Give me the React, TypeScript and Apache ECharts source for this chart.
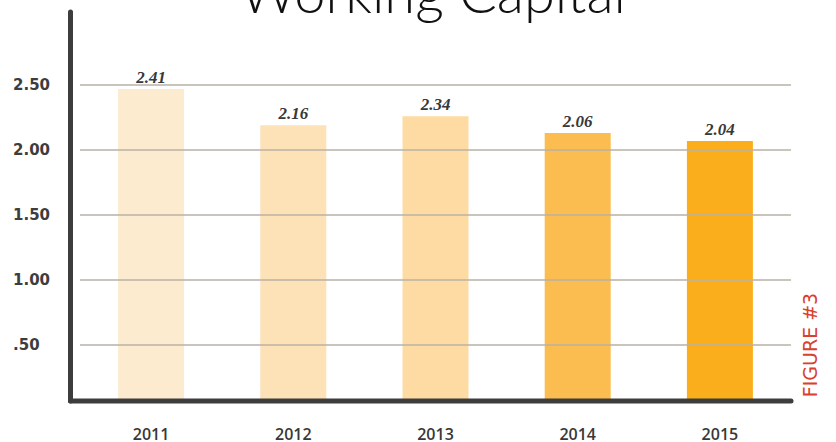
import React, { useEffect, useRef } from "react";
import * as echarts from "echarts";

const categories = ["2011", "2012", "2013", "2014", "2015"];
const barValues = [2.47, 2.19, 2.26, 2.13, 2.07];
const valueLabels = ["2.41", "2.16", "2.34", "2.06", "2.04"];
const barColors = ["#FDEBD0", "#FDE2B8", "#FDDBA3", "#FBBD4F", "#FBAE1B"];
const yTickValues = [0.5, 1, 1.5, 2, 2.5];
const yTickLabels = [".50", "1.00", "1.50", "2.00", "2.50"];
const titleText = "Working Capital";
const figureText = "FIGURE #3";

export default function App() {
  const ref = useRef<HTMLDivElement>(null);
  useEffect(() => {
    if (!ref.current) return;
    const chart = echarts.init(ref.current, null, { renderer: "svg" });
    chart.setOption({
      animation: false,
      backgroundColor: "#ffffff",
      grid: { left: 80, right: 45, top: 10, bottom: 41 },
      xAxis: {
        type: "category",
        data: categories,
        axisLine: { show: false },
        axisTick: { show: false },
        axisLabel: {
          margin: 26,
          color: "#383838",
          fontSize: 16,
          lineHeight: 14,
          fontWeight: 600,
          fontFamily: "Open Sans",
        },
      },
      yAxis: {
        type: "value",
        min: 0.069,
        max: 3.077,
        axisLine: { show: false },
        axisTick: { show: false },
        splitLine: { show: false },
        axisLabel: {
          customValues: yTickValues,
          formatter: (v: number) => {
            const i = yTickValues.findIndex((t) => Math.abs(t - v) < 1e-6);
            return i >= 0 ? yTickLabels[i] : "";
          },
          align: "left",
          margin: 67,
          color: "#3d3d3d",
          fontSize: 15,
          fontWeight: "bold",
          fontFamily: "DejaVu Sans",
        },
      },
      series: [
        {
          type: "bar",
          barWidth: 66,
          data: barValues.map((v, i) => ({
            value: v,
            itemStyle: { color: barColors[i] },
            label: { formatter: valueLabels[i] },
          })),
          label: {
            show: true,
            position: "top",
            distance: 3,
            color: "#383838",
            fontSize: 17,
            fontStyle: "italic",
            fontWeight: "bold",
            fontFamily: "Liberation Serif",
          },
          markLine: {
            silent: true,
            symbol: "none",
            label: { show: false },
            lineStyle: { color: "#b8b2a6", width: 1.5, type: "solid" },
            data: yTickValues.map((v) => ({ yAxis: v })),
          },
        },
      ],
      graphic: [
        {
          type: "text",
          z: 10,
          x: 433,
          y: -9,
          style: {
            text: titleText,
            x: 0,
            y: 0,
            align: "center",
            verticalAlign: "middle",
            fontSize: 56,
            fontWeight: 300,
            fontFamily: "Lato",
            fill: "#111111",
          },
        },
        {
          type: "text",
          z: 10,
          x: 810,
          y: 345,
          rotation: Math.PI / 2,
          style: {
            text: figureText,
            x: 0,
            y: 0,
            align: "center",
            verticalAlign: "middle",
            fontSize: 19,
            fontWeight: "normal",
            fontFamily: "DejaVu Sans",
            fill: "#D9412E",
          },
        },
        {
          type: "line",
          z: 10,
          shape: { x1: 70.5, y1: 12, x2: 70.5, y2: 401 },
          style: { stroke: "#3d3d3d", lineWidth: 5, lineCap: "round" },
        },
        {
          type: "line",
          z: 10,
          shape: { x1: 70.5, y1: 401, x2: 791, y2: 401 },
          style: { stroke: "#3d3d3d", lineWidth: 5, lineCap: "round" },
        },
      ],
    });
    return () => chart.dispose();
  }, []);
  return (
    <div
      ref={ref}
      style={{ position: "absolute", left: 0, top: 0, width: 836, height: 442 }}
    />
  );
}
